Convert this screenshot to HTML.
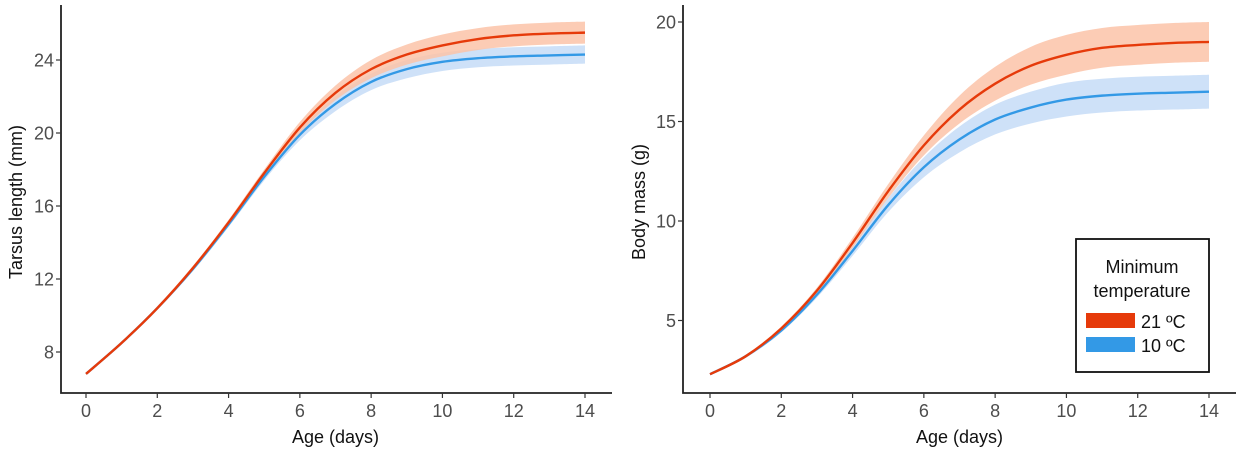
<!DOCTYPE html>
<html><head><meta charset="utf-8"><style>
body{margin:0;background:#fff;}
svg{display:block;font-family:"Liberation Sans",Arial,sans-serif;}
</style></head><body>
<svg id="chart" width="1236" height="450" viewBox="0 0 1236 450" xmlns="http://www.w3.org/2000/svg"></svg>
<script>
// Shared data
const ages = [0,1,2,3,4,5,6,7,8,9,10,11,12,13,14];
const xTicks = [0,2,4,6,8,10,12,14];
// Tarsus length (mm)
const tarsusWarm = [6.8,8.5,10.4,12.6,15.1,17.8,20.3,22.2,23.5,24.3,24.8,25.15,25.35,25.45,25.5];
const tarsusWarmCI = [0.05,0.08,0.1,0.12,0.15,0.2,0.3,0.4,0.5,0.55,0.6,0.6,0.6,0.6,0.6];
const tarsusCold = [6.8,8.5,10.4,12.55,15.0,17.6,19.9,21.6,22.8,23.5,23.9,24.1,24.2,24.25,24.3];
const tarsusColdCI = [0.05,0.08,0.1,0.12,0.15,0.2,0.3,0.4,0.45,0.5,0.5,0.5,0.5,0.5,0.5];
const tarsusTicks = [8,12,16,20,24];
// Body mass (g)
const massWarm = [2.3,3.2,4.6,6.5,8.9,11.5,13.8,15.6,16.9,17.8,18.35,18.7,18.85,18.95,19.0];
const massWarmCI = [0.05,0.08,0.1,0.15,0.25,0.35,0.5,0.7,0.85,0.95,1.0,1.0,1.0,1.0,1.0];
const massCold = [2.3,3.2,4.5,6.3,8.5,10.8,12.7,14.1,15.1,15.7,16.1,16.3,16.4,16.45,16.5];
const massColdCI = [0.05,0.08,0.1,0.15,0.25,0.35,0.5,0.65,0.75,0.8,0.85,0.85,0.85,0.85,0.85];
const massTicks = [5,10,15,20];

const NS='http://www.w3.org/2000/svg';
const svg=document.getElementById('chart');
function mk(tag,attrs,parent){const e=document.createElementNS(NS,tag);for(const k in attrs)e.setAttribute(k,attrs[k]);(parent||svg).appendChild(e);return e;}
function smooth(pts){let d='M'+pts[0][0]+','+pts[0][1];for(let i=0;i<pts.length-1;i++){const p0=pts[Math.max(i-1,0)],p1=pts[i],p2=pts[i+1],p3=pts[Math.min(i+2,pts.length-1)];
const c1=[p1[0]+(p2[0]-p0[0])/6,p1[1]+(p2[1]-p0[1])/6],c2=[p2[0]-(p3[0]-p1[0])/6,p2[1]-(p3[1]-p1[1])/6];
d+=' C'+c1[0]+','+c1[1]+' '+c2[0]+','+c2[1]+' '+p2[0]+','+p2[1];}return d;}

function panel(cfg){
  const g=mk('g',{});
  
  
  const xs=v=>cfg.x0+(v-0)*(cfg.x14-cfg.x0)/14;
  const ys=v=>cfg.yA+(v-cfg.vA)*(cfg.yB-cfg.yA)/(cfg.vB-cfg.vA);
  const series=[[cfg.cold,cfg.coldCI,'#c6dcf7','#3399e6','cold'],[cfg.warm,cfg.warmCI,'#fcc3a8','#e63a0a','warm']];
  series.forEach(s=>{
    const up=ages.map((a,i)=>[xs(a),ys(s[0][i]+s[1][i])]);
    const lo=ages.map((a,i)=>[xs(a),ys(s[0][i]-s[1][i])]).reverse();
    const band=mk('path',{d:smooth(up)+' L'+smooth(lo).slice(1)+' Z',fill:s[2],'fill-opacity':0.85},g);
    
    
  });
  series.forEach(s=>{
    const ln=mk('path',{d:smooth(ages.map((a,i)=>[xs(a),ys(s[0][i])])),fill:'none',stroke:s[3],'stroke-width':2.4},g);
    
    
  });
  const ax=mk('path',{d:`M${cfg.axX},5 V393 H${cfg.axEnd}`,fill:'none',stroke:'#222','stroke-width':1.8},g);
  
  
  xTicks.forEach(t=>{
    mk('line',{x1:xs(t),x2:xs(t),y1:393,y2:398,stroke:'#333','stroke-width':1.2},g);
    const tx=mk('text',{x:xs(t),y:417,'text-anchor':'middle','font-size':18,fill:'#4d4d4d'},g);
    tx.textContent=t;
    
    
  });
  cfg.ticks.forEach(t=>{
    mk('line',{x1:cfg.axX-5,x2:cfg.axX,y1:ys(t),y2:ys(t),stroke:'#333','stroke-width':1.2},g);
    const tx=mk('text',{x:cfg.axX-7,y:ys(t)+6.5,'text-anchor':'end','font-size':18,fill:'#4d4d4d'},g);
    tx.textContent=t;
    
    
  });
  const xt=mk('text',{x:(cfg.x0+cfg.x14)/2,y:443,'text-anchor':'middle','font-size':18,fill:'#111'},g);
  xt.textContent='Age (days)';
  
  
  const yt=mk('text',{x:0,y:0,transform:`translate(${cfg.ytX},${cfg.ytY}) rotate(-90)`,'text-anchor':'middle','font-size':18,fill:'#111'},g);
  yt.textContent=cfg.ytitle;
  
  
}
panel({name:'tarsus-panel',x0:86,x14:585,axX:61,axEnd:612,yA:60,vA:24,yB:352,vB:8,warm:tarsusWarm,warmCI:tarsusWarmCI,cold:tarsusCold,coldCI:tarsusColdCI,ticks:tarsusTicks,ytitle:'Tarsus length (mm)',ytX:22,ytY:202});
panel({name:'mass-panel',x0:710,x14:1209,axX:683,axEnd:1236,yA:22,vA:20,yB:320.5,vB:5,warm:massWarm,warmCI:massWarmCI,cold:massCold,coldCI:massColdCI,ticks:massTicks,ytitle:'Body mass (g)',ytX:645,ytY:202});

// legend
const lg=mk('g',{});


mk('rect',{x:1076,y:239,width:133,height:133,fill:'#fff',stroke:'#111','stroke-width':1.8},lg);
const t1=mk('text',{x:1142,y:273,'text-anchor':'middle','font-size':18,fill:'#111'},lg);t1.textContent='Minimum';


const t2=mk('text',{x:1142,y:297,'text-anchor':'middle','font-size':18,fill:'#111'},lg);t2.textContent='temperature';


[['21 ºC','#e63a0a',313,'legend-entry-21'],['10 ºC','#3399e6',337,'legend-entry-10']].forEach(e=>{
  const r=mk('rect',{x:1086,y:e[2],width:49,height:15,fill:e[1]},lg);
  
  
  const t=mk('text',{x:1141,y:e[2]+15,'font-size':18,fill:'#111'},lg);t.textContent=e[0];
  
  
});
</script>
</body></html>
